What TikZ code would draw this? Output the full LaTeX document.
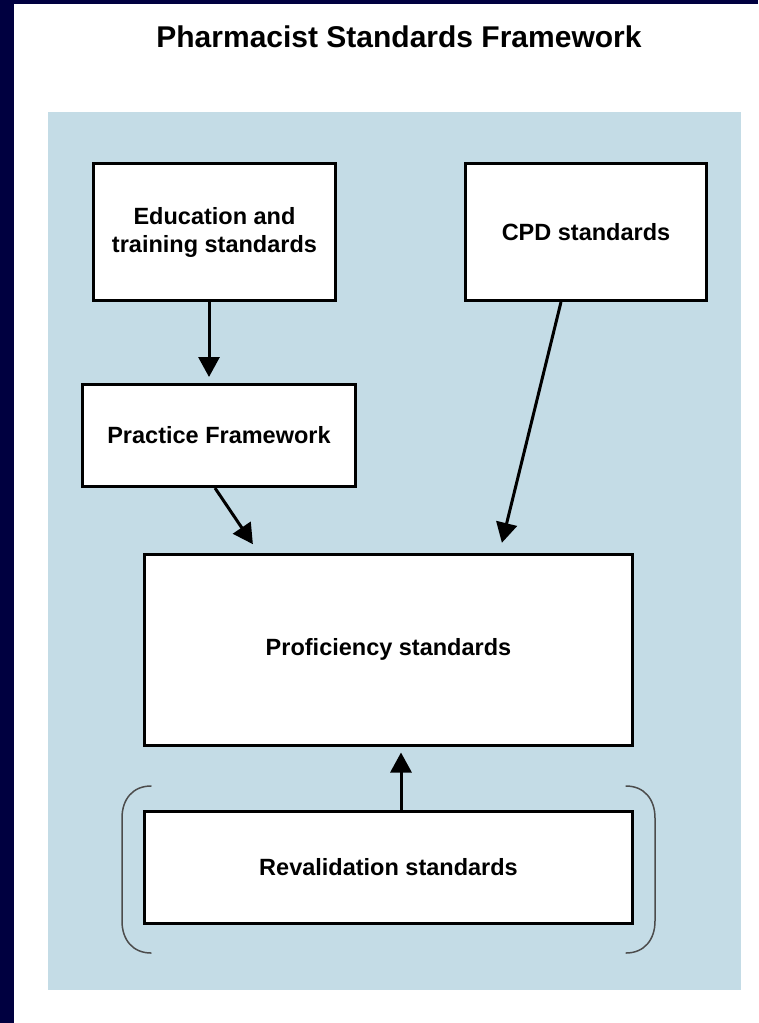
\documentclass[tikz,border=0pt]{standalone}
\usepackage{fontspec}
\setmainfont{Liberation Sans}
\usetikzlibrary{arrows.meta,positioning}

\definecolor{slidenavy}{RGB}{0,0,64}
\definecolor{panelblue}{RGB}{196,220,230}

\begin{document}
\begin{tikzpicture}[x=1pt, y=-1pt,
        node distance=63pt and 63pt,
        every node/.style={align=center, font=\fontsize{23.5}{28}\selectfont\bfseries},
        stdbox/.style={draw, line width=3pt, fill=white, inner sep=0pt},
        link/.style={line width=3pt, -{Triangle[length=20pt,width=21pt]}},
        bracket/.style={line width=1.5pt, draw=black!70, line cap=round}
    ]

  % Background
  \useasboundingbox (0,0) rectangle (758,1023);
  \fill[white] (0,0) rectangle (758,1023);
  \fill[slidenavy] (0,0) rectangle (14,1023);
  \fill[slidenavy] (0,0) rectangle (758,4);
  \fill[panelblue] (48,112) rectangle (741,990);

  % Nodes
  \node (title) at (399,37) {\fontsize{30}{36}\selectfont Pharmacist Standards Framework};
  \node (edu) [stdbox, minimum width=242pt, minimum height=137pt] at (214.5,232) {Education and\\training standards};
  \node (cpd) [stdbox, minimum width=241pt, minimum height=137pt] at (586,232) {CPD standards};
  \node (pf) [stdbox, minimum width=273pt, minimum height=102pt] at (219,435.5) {Practice Framework};
  \node (prof) [stdbox, minimum width=488pt, minimum height=191pt] at (388.5,649.5) {Proficiency standards};
  \node (reval) [stdbox, minimum width=488pt, minimum height=112pt, below=of prof] {Revalidation standards};

  % Brackets round the revalidation box
  \draw[bracket] (151,786) .. controls (133,786) and (122,799) .. (122,818) -- (122,921)
                 .. controls (122,940) and (133,953) .. (151,953);
  \draw[bracket] (626,786) .. controls (644,786) and (655,799) .. (655,818) -- (655,921)
                 .. controls (655,940) and (644,953) .. (626,953);

  % Arrows
  \draw[link, shorten >=6pt] ([xshift=-5.5pt]edu.south) -- ([xshift=-5.5pt]edu.south |- pf.north);
  \draw[link, shorten >=10pt] ([xshift=-4pt]pf.south) -- ([xshift=-130pt]prof.north);
  \draw[link, shorten >=10pt] ([xshift=-25pt]cpd.south) -- ([xshift=111pt]prof.north);
  \draw[link, shorten >=6pt] ([xshift=12.5pt]reval.north) -- ([xshift=12.5pt]prof.south);
\end{tikzpicture}
\end{document}
